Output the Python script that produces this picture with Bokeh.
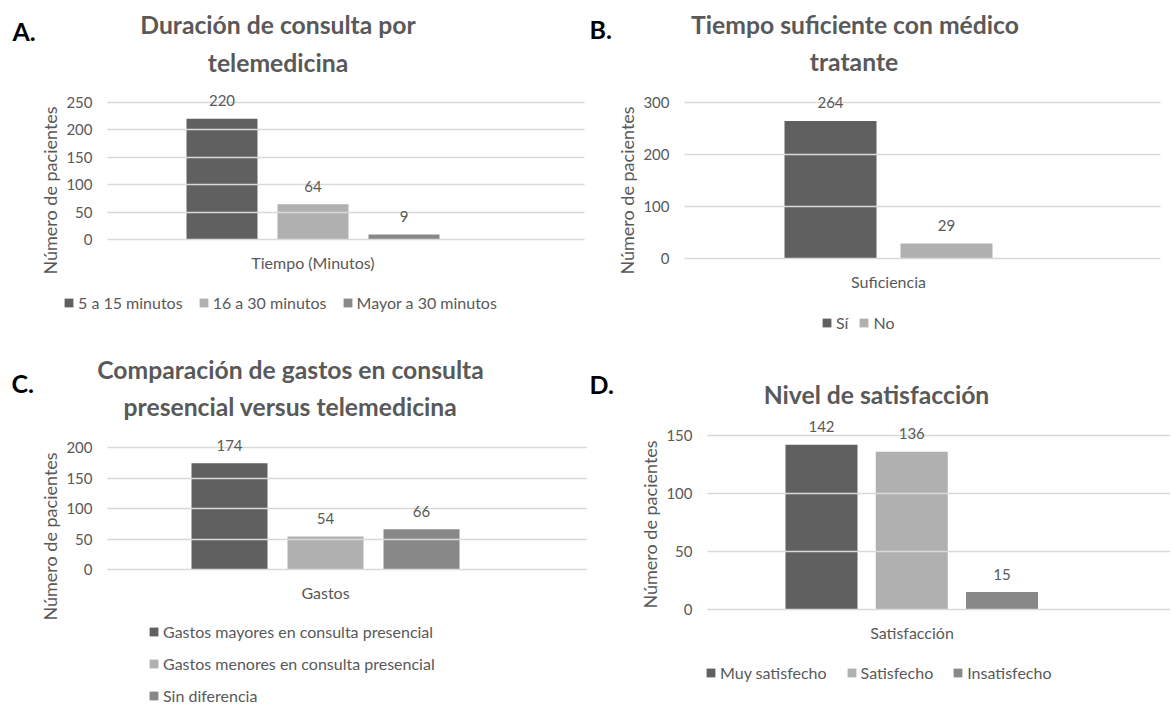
from bokeh.plotting import figure
from bokeh.models import (Range1d, Label, LabelSet, ColumnDataSource, Legend,
                          LegendItem, FixedTicker, LinearAxis)
from bokeh.layouts import row, column
from bokeh.embed import file_html
from bokeh.resources import INLINE
from bokeh.core.properties import value

# ---------------- data ----------------
a_title = ["Duración de consulta por", "telemedicina"]
a_cats = ["5 a 15 minutos", "16 a 30 minutos", "Mayor a 30 minutos"]
a_vals = [220, 64, 9]
a_ticks = [0, 50, 100, 150, 200, 250]
a_xlabel = "Tiempo (Minutos)"

b_title = ["Tiempo suficiente con médico", "tratante"]
b_cats = ["Sí", "No"]
b_vals = [264, 29]
b_ticks = [0, 100, 200, 300]
b_xlabel = "Suficiencia"

c_title = ["Comparación de gastos en consulta", "presencial versus telemedicina"]
c_cats = ["Gastos mayores en consulta presencial",
          "Gastos menores en consulta presencial",
          "Sin diferencia"]
c_vals = [174, 54, 66]
c_ticks = [0, 50, 100, 150, 200]
c_xlabel = "Gastos"

d_title = ["Nivel de satisfacción"]
d_cats = ["Muy satisfecho", "Satisfecho", "Insatisfecho"]
d_vals = [142, 136, 15]
d_ticks = [0, 50, 100, 150]
d_xlabel = "Satisfacción"

ylabel = "Número de pacientes"

# ---------------- style ----------------
FONT = "Lato"
TXT = "#595959"
GRID = "#d9d9d9"
COLORS = ["#606060", "#b0b0b0", "#888888"]


def panel(letter, title, cats, vals, ticks, xlabel, fig_box, L, R, Yt, Y0,
          c0, unit, bw, ylab_c, title_pos, letter_pos, leg_pos,
          orientation="horizontal", spacing=15):
    x0, y0, x1, y1 = fig_box
    W, H = x1 - x0, y1 - y0
    top_val = ticks[-1]
    ppu = (Y0 - Yt) / top_val
    y_start = -(y1 - Y0) / ppu
    y_end = top_val + (Yt - y0) / ppu
    xs = -(c0 - x0) / unit
    xe = xs + W / unit
    xL = xs + (L - x0) / unit

    p = figure(width=W, height=H, output_backend="svg", toolbar_location=None,
               x_range=Range1d(xs, xe), y_range=Range1d(y_start, y_end),
               x_axis_location=None, y_axis_location=None,
               min_border=0, min_border_left=0, min_border_right=0,
               min_border_top=0, min_border_bottom=0)
    p.outline_line_color = None
    p.background_fill_color = "white"
    p.border_fill_color = "white"
    p.grid.visible = False

    # y axis: its inward ticks act as the horizontal gridlines
    v_c = (Y0 - ylab_c) / ppu
    ya = LinearAxis(fixed_location=xL, ticker=FixedTicker(ticks=ticks),
                    bounds=(2 * v_c - top_val, top_val))
    ya.axis_line_color = None
    ya.major_tick_line_color = GRID
    ya.major_tick_line_width = 1.3
    ya.minor_tick_line_color = None
    ya.major_tick_out = 0
    ya.major_tick_in = int(R - L)
    ya.major_label_standoff = 15
    ya.major_label_text_font = FONT
    ya.major_label_text_font_size = "15px"
    ya.major_label_text_color = TXT
    ya.axis_label = ylabel
    ya.axis_label_text_font = FONT
    ya.axis_label_text_font_size = "18px"
    ya.axis_label_text_font_style = "normal"
    ya.axis_label_text_color = TXT
    ya.axis_label_standoff = 2
    p.add_layout(ya, "left")

    n = len(cats)
    mid = (n - 1) / 2
    xa = LinearAxis(fixed_location=0, ticker=FixedTicker(ticks=[]),
                    bounds=(mid - 1.5, mid + 1.5))
    xa.axis_line_color = None
    xa.major_tick_line_color = None
    xa.minor_tick_line_color = None
    xa.major_tick_out = 0
    xa.major_tick_in = 0
    xa.major_label_standoff = 0
    xa.axis_label = xlabel
    xa.axis_label_text_font = FONT
    xa.axis_label_text_font_size = "16px"
    xa.axis_label_text_font_style = "normal"
    xa.axis_label_text_color = TXT
    xa.axis_label_standoff = 13
    p.add_layout(xa, "below")

    src = ColumnDataSource(dict(x=list(range(n)), top=vals, color=COLORS[:n],
                                txt=[str(v) for v in vals]))
    rend = p.vbar(x="x", top="top", bottom=0, width=bw / unit, color="color",
                  line_color=None, source=src)
    p.add_layout(LabelSet(x="x", y="top", text="txt", source=src, y_offset=18,
                          text_align="center", text_baseline="middle",
                          text_font=value(FONT), text_font_size="15px",
                          text_color=TXT))

    def fx(px):
        return px - x0

    def fy(py):
        return y1 - py

    for txt, (tx, ty) in zip(title, title_pos):
        p.add_layout(Label(x=fx(tx), y=fy(ty), x_units="screen", y_units="screen",
                           text=txt, text_align="center", text_baseline="alphabetic",
                           text_font=FONT, text_font_size="24.7px",
                           text_font_style="bold", text_color=TXT))
    p.add_layout(Label(x=fx(letter_pos[0]), y=fy(letter_pos[1]), x_units="screen",
                       y_units="screen", text=letter, text_align="left",
                       text_baseline="alphabetic", text_font=FONT,
                       text_font_size="25px", text_font_style="bold",
                       text_color="black"))

    items = [LegendItem(label=c, renderers=[rend], index=i) for i, c in enumerate(cats)]
    lx, ly_bottom = leg_pos
    leg = Legend(items=items, location=(fx(lx), fy(ly_bottom)),
                 orientation=orientation, border_line_color=None,
                 background_fill_alpha=0, padding=0, margin=0,
                 spacing=spacing, label_standoff=4, glyph_width=11,
                 glyph_height=11, label_height=20, label_width=0,
                 label_text_font=FONT, label_text_font_size="16px",
                 label_text_color=TXT)
    p.add_layout(leg, "center")
    return p


pA = panel("A.", a_title, a_cats, a_vals, a_ticks, a_xlabel,
           (0, 0, 587, 340), 107, 584, 101.7, 239, 221.5, 91, 71, 190,
           [(277.5, 24), (277.5, 62)], (12, 30), (63, 312), spacing=15)
pB = panel("B.", b_title, b_cats, b_vals, b_ticks, b_xlabel,
           (587, 0, 1170, 340), 684, 1160, 101.7, 258, 830, 116, 92, 190,
           [(854.5, 23.5), (853.5, 61)], (589, 28), (821, 332), spacing=10)
pC = panel("C.", c_title, c_cats, c_vals, c_ticks, c_xlabel,
           (0, 340, 587, 704), 107, 587, 447, 569, 229, 96, 76, 536,
           [(290, 369), (290, 406)], (11, 382), (148, 705),
           orientation="vertical", spacing=12)
pD = panel("D.", d_title, d_cats, d_vals, d_ticks, d_xlabel,
           (587, 340, 1170, 704), 707, 1170, 435, 609, 821, 90.25, 72, 524,
           [(876, 394)], (589, 383), (705, 682), spacing=19)

layout = column(row(pA, pB), row(pC, pD))
open("out.html", "w").write(file_html(layout, INLINE))
